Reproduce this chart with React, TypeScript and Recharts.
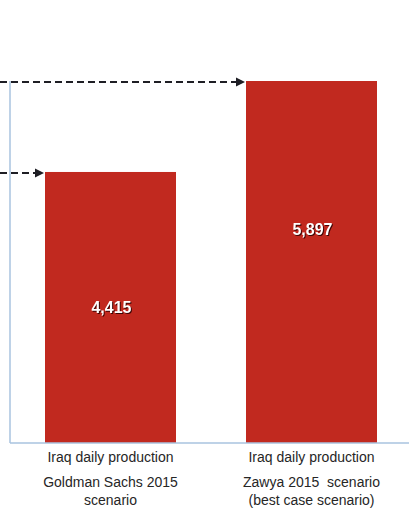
import { Bar, BarChart, Cell, LabelList, XAxis, YAxis } from "recharts";

// Iraq daily production scenarios (thousand barrels per day)
const scenarioNames = ["Goldman Sachs 2015", "Zawya 2015"];
const productionValues = [4415, 5897];
const labelLine1 = ["Iraq daily production", "Iraq daily production"];
const labelLine2 = ["Goldman Sachs 2015", "Zawya 2015  scenario"];
const labelLine3 = ["scenario", "(best case scenario)"];

const data = scenarioNames.map((name, i) => ({ name, value: productionValues[i] }));

const BAR_RED = "#c1291f";
const AXIS_BLUE = "#a9c3df";
const ARROW = "#1e1e24";
// where the value label sits, as a share of each bar's height from its top
const LABEL_DEPTH = [0.5, 0.41];

function ArrowBar(props: any) {
  const { x, y, width, height, fill } = props;
  const tip = x - 1;
  return (
    <g>
      <rect x={x} y={y} width={width} height={height} fill={fill} />
      <line
        x1={0}
        y1={y + 1}
        x2={tip - 8}
        y2={y + 1}
        stroke={ARROW}
        strokeWidth={2}
        strokeDasharray="7 4"
      />
      <polygon points={`${tip},${y + 1} ${tip - 9},${y - 3.5} ${tip - 9},${y + 5.5}`} fill={ARROW} />
    </g>
  );
}

function ValueLabel(props: any) {
  const { x, y, width, height, value, index } = props;
  const cy = y + height * LABEL_DEPTH[index];
  return (
    <text
      x={x + width / 2 + 1}
      y={cy}
      textAnchor="middle"
      dominantBaseline="central"
      fill="#ffffff"
      fontSize={16}
      fontWeight="bold"
      fontFamily="Liberation Sans, Arial, sans-serif"
      style={{ filter: "drop-shadow(1px 1px 0.6px rgba(40,0,0,0.85))" }}
    >
      {Number(value).toLocaleString("en-US")}
    </text>
  );
}

function CategoryTick(props: any) {
  const { x, y, index } = props;
  const lines = [labelLine1[index], labelLine2[index], labelLine3[index]];
  const offsets = [11, 36, 54];
  return (
    <g>
      {lines.map((line, i) => (
        <text
          key={i}
          x={x}
          y={y + offsets[i]}
          textAnchor="middle"
          fill="#262626"
          fontSize={14}
          fontFamily="Liberation Sans, Arial, sans-serif"
          style={{ whiteSpace: "pre" }}
        >
          {line}
        </text>
      ))}
    </g>
  );
}

export default function App() {
  return (
    <div style={{ position: "absolute", left: 0, top: 0, width: 409, height: 512, background: "#fff" }}>
      <BarChart
        width={409}
        height={512}
        data={data}
        margin={{ top: 81, right: -3, bottom: 0, left: 9 }}
        barSize={131}
      >
        <XAxis
          dataKey="name"
          height={69}
          axisLine={{ stroke: AXIS_BLUE, strokeWidth: 1.5 }}
          tickLine={false}
          tick={<CategoryTick />}
          interval={0}
        />
        <YAxis
          width={1}
          domain={[0, "dataMax"]}
          axisLine={{ stroke: AXIS_BLUE, strokeWidth: 1.5 }}
          tickLine={false}
          tick={false}
        />
        <Bar dataKey="value" fill={BAR_RED} shape={<ArrowBar />} isAnimationActive={false}>
          {data.map((d) => (
            <Cell key={d.name} fill={BAR_RED} />
          ))}
          <LabelList dataKey="value" content={<ValueLabel />} />
        </Bar>
      </BarChart>
    </div>
  );
}
